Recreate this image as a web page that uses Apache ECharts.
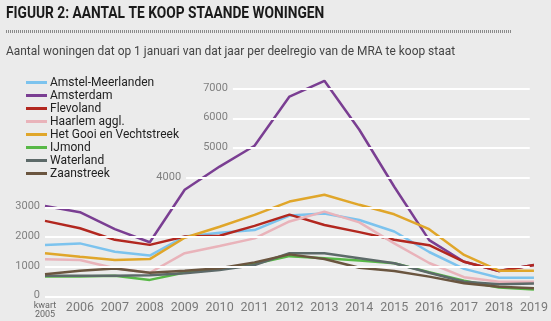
<!DOCTYPE html>
<html><head><meta charset="utf-8">
<script src="https://cdn.jsdelivr.net/npm/echarts@6/dist/echarts.min.js"></script>
<style>html,body{margin:0;padding:0;background:#ebebeb;}#c{width:551px;height:321px;}</style>
</head><body><div id="c"></div>
<script>
const years = [2005,2006,2007,2008,2009,2010,2011,2012,2013,2014,2015,2016,2017,2018,2019];
const seriesNames = ['Amstel-Meerlanden','Amsterdam','Flevoland','Haarlem aggl.','Het Gooi en Vechtstreek','IJmond','Waterland','Zaanstreek'];
const amstel     = [1740,1790,1510,1380,2020,2150,2240,2730,2800,2580,2190,1500,930,630,630];
const amsterdam  = [3050,2840,2270,1830,3600,4380,5080,6740,7270,5620,3700,1900,1170,860,1060];
const flevoland  = [2550,2300,1910,1740,2020,2050,2380,2760,2410,2170,1910,1730,1170,860,1060];
const haarlem    = [1255,1230,950,800,1460,1700,1960,2530,2860,2500,1790,1130,650,500,500];
const gooi       = [1460,1340,1230,1260,1980,2350,2750,3200,3430,3090,2770,2270,1400,870,870];
const ijmond     = [670,670,700,560,810,930,1100,1360,1290,1210,1120,820,530,300,240];
const waterland  = [700,700,700,720,780,890,1060,1460,1460,1290,1120,800,500,410,440];
const zaanstreek = [750,870,940,800,870,950,1150,1420,1265,970,860,670,445,330,280];
const yTicks = [0,1000,2000,3000,4000,5000,6000,7000];
const colors = ['#7cc3ee','#7a3e92','#b2271f','#e9b3ba','#e0a62a','#58b847','#5d6a69','#6a553f'];
const allData = [amstel,amsterdam,flevoland,haarlem,gooi,ijmond,waterland,zaanstreek];

const chart = echarts.init(document.getElementById('c'));
const FONT = 'Roboto, "Open Sans", sans-serif';
function gridStart(v){ if (v <= 3000) return 2005; if (v === 4000) return 2009.04; return 2010.38; }
const gridLines = yTicks.map(v => [
  {name: String(v), coord: [gridStart(v), v]},
  {coord: [2018.88, v]}
]);
const series = seriesNames.map((n,i) => ({
  name: n, type: 'line', z: 3, symbol: 'none', smooth: false,
  lineStyle: {width: 2.5, color: colors[i]}, itemStyle: {color: colors[i]},
  data: years.map((y,k) => [y, allData[i][k]])
}));
series.unshift({
  name: 'grid', type: 'line', z: 1, data: [], silent: true,
  markLine: {
    silent: true, symbol: ['none','none'], animation: false,
    lineStyle: {color: '#ffffff', width: 2, type: 'solid'},
    label: {show: true, position: 'start', distance: 5, formatter: '{b}', color: '#808080', fontSize: 11, fontFamily: FONT, offset:[0,-1]},
    emphasis: {disabled: true},
    data: gridLines
  }
});
chart.setOption({
  backgroundColor: '#ebebeb',
  animation: false,
  textStyle: {fontFamily: FONT},
  graphic: [
    {type: 'text', x: 6, y: 6, scaleX: 0.86, style: {text: 'FIGUUR 2: AANTAL TE KOOP STAANDE WONINGEN', font: 'bold 16px ' + FONT, fill: '#1a1a1a'}},
    {type: 'line', shape: {x1: 6, y1: 31.5, x2: 512, y2: 31.5}, style: {stroke: '#8a8a8a', lineWidth: 3, lineDash: [1,1]}},
    {type: 'text', x: 6, y: 45, scaleX: 0.918, style: {text: 'Aantal woningen dat op 1 januari van dat jaar per deelregio van de MRA te koop staat', font: '13px ' + FONT, fill: '#444444'}}
  ],
  legend: {
    orient: 'vertical', left: 21, top: 71.5, itemWidth: 21, itemHeight: 3, itemGap: 1.0,
    icon: 'rect', data: seriesNames,
    textStyle: {color: '#222', fontSize: 12, fontFamily: FONT, lineHeight: 12, padding: [0,0,0,-2]}
  },
  grid: {left: 45, right: 14, top: 74, bottom: 24.5},
  xAxis: {
    type: 'value', min: 2005, max: 2019, interval: 1,
    axisLine: {show: false}, axisTick: {show: false}, splitLine: {show: false},
    axisLabel: {
      margin: 5, color: '#7a7a7a', fontSize: 12.5,
      formatter: v => v === 2005 ? '{s|kwart}\n{s|2005}' : String(v),
      rich: {s: {fontSize: 9, lineHeight: 9, color: '#666', fontFamily: FONT}}
    }
  },
  yAxis: {type: 'value', min: 0, max: 7500, show: false},
  series: series
});
</script></body></html>
